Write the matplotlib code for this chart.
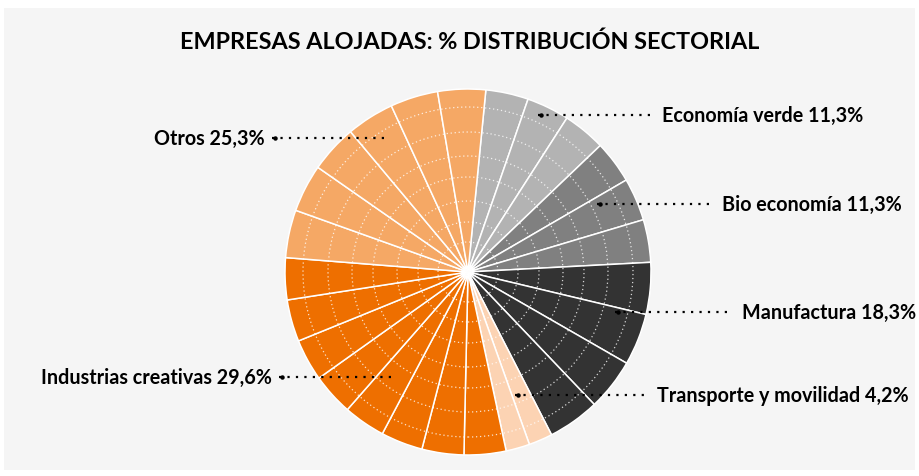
import matplotlib
matplotlib.use("Agg")
import matplotlib.pyplot as plt
from matplotlib.patches import Rectangle, Circle

# datos
sectores = ["Economía verde", "Bio economía", "Manufactura",
            "Transporte y movilidad", "Industrias creativas", "Otros"]
porcentajes = [11.3, 11.3, 18.3, 4.2, 29.6, 25.3]
subdivisiones = [3, 3, 4, 2, 8, 6]
colores = ["#b3b3b3", "#808080", "#333333", "#fcd3b3", "#ee6f00", "#f5a865"]

# posicion de etiquetas (px, desde arriba): x texto, y, x inicio linea, x fin linea, lado
etiquetas = {
    "Economía verde": (662, 116, 538, 655, "left"),
    "Bio economía": (722, 205, 597, 713, "left"),
    "Manufactura": (742, 313, 615, 733, "left"),
    "Transporte y movilidad": (657, 396, 515, 650, "left"),
    "Industrias creativas": (272, 378, 279, 395, "right"),
    "Otros": (265, 139, 272, 390, "right"),
}

plt.rcParams['font.family'] = ['Lato', 'DejaVu Sans']

W, H = 919, 477
cx, cy, R = 468, 273, 183

fig = plt.figure(figsize=(W / 100, H / 100), dpi=100)
ax = fig.add_axes([0, 0, 1, 1])

# fondo gris
ax.add_patch(Rectangle((4, H - 471), 911, 462, facecolor="#f5f5f5",
                       edgecolor="none", zorder=0))

# cada sector dividido en cuñas iguales
valores = []
cols = []
for p, n, c in zip(porcentajes, subdivisiones, colores):
    valores += [p / n] * n
    cols += [c] * n

ax.pie(valores, colors=cols, startangle=84.4, counterclock=False,
       center=(cx, H - cy), radius=R,
       wedgeprops=dict(edgecolor="white", linewidth=1.1, zorder=2))

# anillos punteados
for r in [30, 50, 71, 95, 116, 140, 165]:
    ax.add_patch(Circle((cx, H - cy), r, fill=False, edgecolor="white",
                        linestyle=(0, (1, 2.2)), linewidth=0.9, alpha=0.8,
                        zorder=3))

# etiquetas y lineas guia
for nombre, p in zip(sectores, porcentajes):
    xt, yt, x0, x1, lado = etiquetas[nombre]
    ax.plot([x0, x1], [H - yt, H - yt], color="black",
            linestyle=(0, (1, 2.8)), linewidth=1.6, zorder=5)
    ax.plot([x0 + 3], [H - yt], "o", color="black", markersize=2.2, zorder=5)
    texto = f"{nombre} {p:.1f}%".replace(".", ",")
    ax.text(xt, H - yt, texto, ha=lado, va="center", fontsize=14.2,
            fontweight="bold", color="black", zorder=6)

ax.text(470, H - 42, "EMPRESAS ALOJADAS: % DISTRIBUCIÓN SECTORIAL",
        ha="center", va="center", fontsize=16.8, fontweight="bold",
        color="black")

ax.set_xlim(0, W)
ax.set_ylim(0, H)
ax.set_aspect("auto")
ax.axis("off")

fig.savefig("out.png", dpi=100, facecolor="white")
